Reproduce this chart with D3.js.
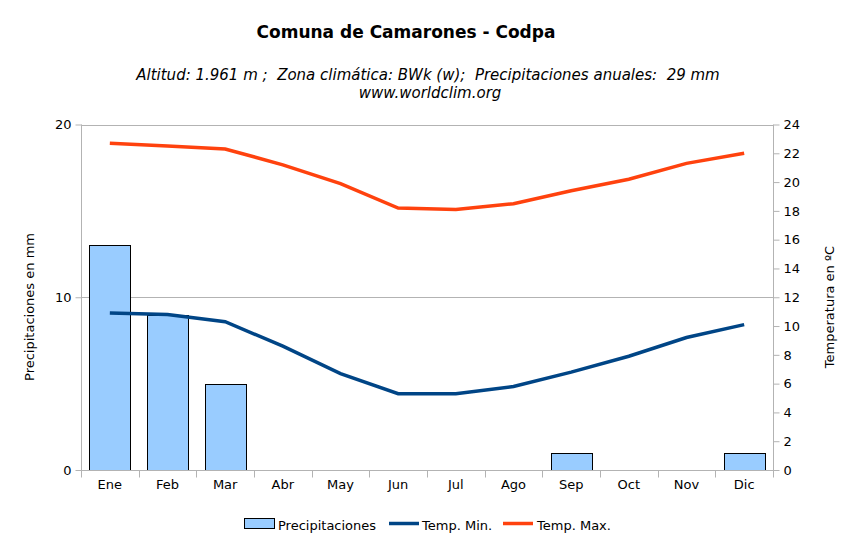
<!DOCTYPE html>
<html>
<head>
<meta charset="utf-8">
<script src="https://cdn.jsdelivr.net/npm/d3@7"></script>
<style>
  body { margin: 0; background: #fff; }
  text { font-family: "DejaVu Sans", Verdana, sans-serif; }
</style>
</head>
<body>
<svg id="chart"></svg>
<script>
const months = ["Ene", "Feb", "Mar", "Abr", "May", "Jun", "Jul", "Ago", "Sep", "Oct", "Nov", "Dic"];
const precip = [13, 9, 5, 0, 0, 0, 0, 0, 1, 0, 0, 1];
const tempMin = [10.9, 10.8, 10.3, 8.6, 6.7, 5.3, 5.3, 5.8, 6.8, 7.9, 9.2, 10.1];
const tempMax = [22.7, 22.5, 22.3, 21.2, 19.9, 18.2, 18.1, 18.5, 19.4, 20.2, 21.3, 22.0];
const precipTicks = [0, 10, 20];
const tempTicks = [0, 2, 4, 6, 8, 10, 12, 14, 16, 18, 20, 22, 24];

const width = 857;
const height = 537;
const margin = { top: 124.5, right: 84, bottom: 67, left: 81 };

const svg = d3.select("#chart")
  .attr("width", width)
  .attr("height", height);

// bars sit inside each month slot
const x = d3.scaleBand()
  .domain(months)
  .range([margin.left, width - margin.right])
  .paddingInner(0.29)
  .paddingOuter(0.145);

const xBand = d3.scaleBand()
  .domain(months)
  .range([margin.left, width - margin.right]);

const yP = d3.scaleLinear()
  .domain([0, 20])
  .range([height - margin.bottom, margin.top]);

const yT = d3.scaleLinear()
  .domain([0, 24])
  .range([height - margin.bottom, margin.top]);

const gridColor = "#b3b3b3";

// gridlines
svg.append("g")
  .selectAll("line")
  .data(precipTicks)
  .join("line")
  .attr("x1", margin.left)
  .attr("x2", width - margin.right)
  .attr("y1", d => Math.round(yP(d)) + 0.5)
  .attr("y2", d => Math.round(yP(d)) + 0.5)
  .attr("stroke", gridColor);

// bars
svg.append("g")
  .selectAll("rect")
  .data(months.map((m, i) => ({ m, v: precip[i] })).filter(d => d.v > 0))
  .join("rect")
  .attr("x", d => Math.round(x(d.m)) + 0.5)
  .attr("y", d => Math.round(yP(d.v)) + 0.5)
  .attr("width", Math.round(x.bandwidth()))
  .attr("height", d => Math.round(yP(0)) - Math.round(yP(d.v)))
  .attr("fill", "#99ccff")
  .attr("stroke", "#000")
  .attr("stroke-width", 1);

// lines
const line = d3.line()
  .x((d, i) => xBand(months[i]) + xBand.bandwidth() / 2)
  .y(d => yT(d));

svg.append("path")
  .datum(tempMin)
  .attr("d", line)
  .attr("fill", "none")
  .attr("stroke", "#004586")
  .attr("stroke-width", 3.5);

svg.append("path")
  .datum(tempMax)
  .attr("d", line)
  .attr("fill", "none")
  .attr("stroke", "#ff420e")
  .attr("stroke-width", 3.5);

// axes
const leftAxis = svg.append("g")
  .attr("transform", `translate(${margin.left + 0.5},0)`)
  .call(d3.axisLeft(yP).tickValues(precipTicks).tickSize(6).tickPadding(4));

const rightAxis = svg.append("g")
  .attr("transform", `translate(${width - margin.right + 0.5},0)`)
  .call(d3.axisRight(yT).tickValues(tempTicks).tickSize(6).tickPadding(4));

const bottomAxis = svg.append("g")
  .attr("transform", `translate(0,${Math.round(yP(0)) + 0.5})`)
  .call(d3.axisBottom(xBand).tickSize(0).tickPadding(9));

// month separators below the baseline
bottomAxis.append("g")
  .selectAll("line")
  .data(months.concat(["end"]))
  .join("line")
  .attr("x1", (d, i) => Math.round(i < 12 ? xBand(d) : xBand.range()[1]) + 0.5)
  .attr("x2", (d, i) => Math.round(i < 12 ? xBand(d) : xBand.range()[1]) + 0.5)
  .attr("y1", 0)
  .attr("y2", 7)
  .attr("stroke", gridColor);

[leftAxis, rightAxis, bottomAxis].forEach(g => {
  g.select(".domain").attr("stroke", gridColor);
  g.selectAll(".tick line").attr("stroke", gridColor);
  g.selectAll("text")
    .attr("font-size", 13)
    .attr("fill", "#000")
    .style("font-family", "'DejaVu Sans', Verdana, sans-serif");
});

leftAxis.select(".domain").attr("d", `M0,${margin.top}V${height - margin.bottom + 7}`);
rightAxis.select(".domain").attr("d", `M0,${margin.top}V${height - margin.bottom + 7}`);
bottomAxis.select(".domain").attr("d", `M${margin.left},0H${width - margin.right}`);

// titles
svg.append("text")
  .attr("x", 406)
  .attr("y", 38)
  .attr("text-anchor", "middle")
  .attr("font-size", 17)
  .attr("font-weight", "bold")
  .text("Comuna de Camarones - Codpa");

svg.append("text")
  .attr("x", 428)
  .attr("y", 80)
  .attr("text-anchor", "middle")
  .attr("font-size", 15)
  .attr("font-style", "italic")
  .attr("xml:space", "preserve")
  .text("Altitud: 1.961 m ;  Zona climática: BWk (w);  Precipitaciones anuales:  29 mm");

svg.append("text")
  .attr("x", 430)
  .attr("y", 98)
  .attr("text-anchor", "middle")
  .attr("font-size", 15)
  .attr("font-style", "italic")
  .text("www.worldclim.org");

svg.append("text")
  .attr("transform", `translate(34,307) rotate(-90)`)
  .attr("text-anchor", "middle")
  .attr("font-size", 13)
  .text("Precipitaciones en mm");

svg.append("text")
  .attr("transform", `translate(834,307) rotate(-90)`)
  .attr("text-anchor", "middle")
  .attr("font-size", 13)
  .text("Temperatura en ºC");

// legend
const legend = svg.append("g").attr("transform", "translate(0,525)");

legend.append("rect")
  .attr("x", 244.5).attr("y", -6.5)
  .attr("width", 30).attr("height", 10)
  .attr("fill", "#99ccff").attr("stroke", "#000");
legend.append("text")
  .attr("x", 278).attr("y", 4.5)
  .attr("font-size", 13)
  .text("Precipitaciones");

legend.append("line")
  .attr("x1", 389).attr("x2", 419).attr("y1", -1.5).attr("y2", -1.5)
  .attr("stroke", "#004586").attr("stroke-width", 3.5);
legend.append("text")
  .attr("x", 422).attr("y", 4.5)
  .attr("font-size", 13)
  .text("Temp. Min.");

legend.append("line")
  .attr("x1", 503).attr("x2", 533).attr("y1", -1.5).attr("y2", -1.5)
  .attr("stroke", "#ff420e").attr("stroke-width", 3.5);
legend.append("text")
  .attr("x", 537).attr("y", 4.5)
  .attr("font-size", 13)
  .text("Temp. Max.");
</script>
</body>
</html>
